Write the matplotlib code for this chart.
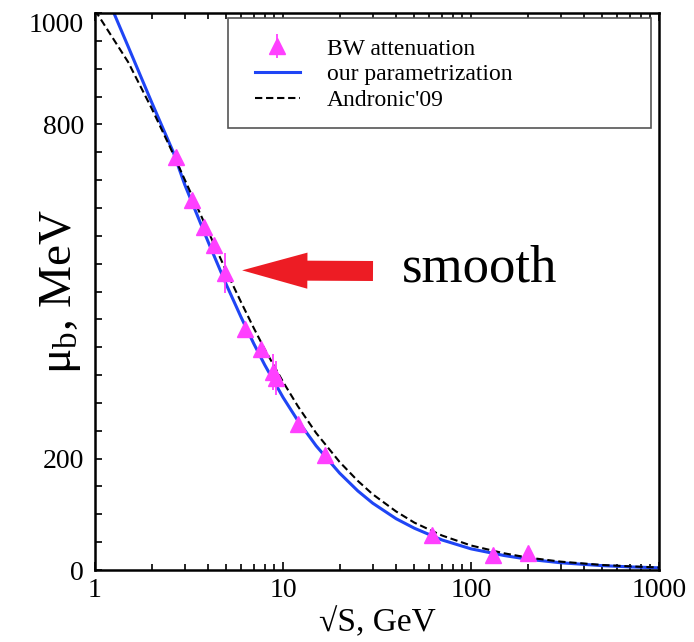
import matplotlib
matplotlib.use("Agg")
import matplotlib.pyplot as plt
from matplotlib.patches import Rectangle
from matplotlib.ticker import FixedLocator, FixedFormatter, LogLocator, NullFormatter

plt.rcParams['font.family'] = ['Liberation Serif', 'DejaVu Serif']
plt.rcParams['mathtext.fontset'] = 'custom'
plt.rcParams['mathtext.rm'] = 'Liberation Serif'
plt.rcParams['mathtext.it'] = 'Liberation Serif:italic'

# ---- data ----
bw_sqrts = [2.7, 3.27, 3.78, 4.27, 4.93, 6.3, 7.6, 8.8, 9.2, 12.0, 16.8, 62.2, 131, 202]
bw_mub = [741, 664, 615, 583, 534, 433, 397, 355, 345, 263, 206, 63, 27, 30]
bw_err = [8, 8, 8, 8, 36, 10, 10, 32, 30, 10, 8, 5, 5, 5]

param_sqrts = [1.26, 1.5, 2.0, 2.61, 3.0, 4.0, 5.0, 6.0, 7.0, 8.0, 10, 12, 15, 20, 25, 30,
               40, 50, 70, 100, 150, 200, 300, 500, 700, 1000]
param_mub = [1000, 940, 840, 750, 692, 589, 512, 453, 406, 368, 310, 268, 223, 174, 142, 120,
             92, 75, 54, 38, 26, 19.4, 13, 7.8, 5.6, 3.9]

andr_sqrts = [1.0, 1.5, 2.0, 2.5, 3.0, 4.0, 5.0, 6.0, 7.0, 8.0, 10, 12, 15, 20, 25, 30,
              40, 50, 70, 100, 150, 200, 300, 500, 700, 1000]
andr_mub = [1005, 912, 829, 760, 701, 608, 536, 480, 434, 396, 338, 294, 246, 194, 160, 136,
            105, 85, 62, 44, 30, 22.4, 15, 9, 6.5, 4.5]

ytick_values = list(range(0, 1001, 50))
ytick_shown = {0: '0', 200: '200', 800: '800', 1000: '1000'}
xtick_values = [1, 10, 100, 1000]
xtick_labels = ['1', '10', '100', '1000']

legend_labels = ['BW attenuation', 'our parametrization', "Andronic'09"]
annotation_text = 'smooth'
arrow_target = (6.06, 538)

# ---- figure ----
W, H = 694, 642
L, R, T, B = 95, 659, 13, 570
fig = plt.figure(figsize=(W / 100, H / 100), dpi=100)
ax = fig.add_axes([L / W, 1 - B / H, (R - L) / W, (B - T) / H])


def axfrac(px, py):
    return (px - L) / (R - L), (B - py) / (B - T)


magenta = '#ff40ff'
blue = '#1f45f5'

eb = ax.errorbar(bw_sqrts, bw_mub, yerr=bw_err, fmt='^', color=magenta, ms=12,
                 mec=magenta, mfc=magenta, elinewidth=1.3, capsize=0, zorder=3,
                 label=legend_labels[0])
l1, = ax.plot(param_sqrts, param_mub, color=blue, lw=2.2, zorder=2, label=legend_labels[1])
l2, = ax.plot(andr_sqrts, andr_mub, color='black', lw=1.5, dashes=(3.5, 1.8), zorder=2.5,
              label=legend_labels[2])

ax.set_xscale('log')
ax.set_xlim(1, 1000)
ax.set_ylim(0, 1000)

ax.xaxis.set_major_locator(FixedLocator(xtick_values))
ax.xaxis.set_major_formatter(FixedFormatter(xtick_labels))
ax.xaxis.set_minor_locator(LogLocator(base=10, subs=[2, 3, 4, 5, 6, 7, 8, 9]))
ax.xaxis.set_minor_formatter(NullFormatter())

ax.yaxis.set_major_locator(FixedLocator(ytick_values))
ax.yaxis.set_major_formatter(FixedFormatter([ytick_shown.get(v, '') for v in ytick_values]))

ax.tick_params(axis='both', which='both', direction='in', top=True, right=False,
               width=1.2, labelsize=20)
ax.tick_params(axis='x', which='major', length=6, pad=6)
ax.tick_params(axis='x', which='minor', length=4)
ax.tick_params(axis='y', which='major', length=5, pad=8)
for s in ax.spines.values():
    s.set_linewidth(1.8)

ax.set_xlabel('√S, GeV', fontsize=24, labelpad=3)
ax.set_ylabel('μ$_{\\mathrm{b}}$, MeV', fontsize=34)
ax.yaxis.set_label_coords(axfrac(83, 0)[0], 0.5)

fig.canvas.draw()
for t in ax.get_yticklabels():
    if t.get_text() == '1000':
        t.set_va('top')

# legend box drawn separately, legend entries placed inside
x0, y0 = axfrac(228, 128)
x1, y1 = axfrac(651, 18)
ax.add_patch(Rectangle((x0, y0), x1 - x0, y1 - y0, transform=ax.transAxes,
                       facecolor='white', edgecolor='#555555', lw=1.2, zorder=4.5,
                       clip_on=False))
leg = ax.legend(handles=[eb, l1, l2], labels=legend_labels,
                bbox_to_anchor=axfrac(255, 38), loc='upper left', borderaxespad=0,
                borderpad=0, fontsize=17, labelspacing=0.18, handlelength=1.9,
                handletextpad=1.15, frameon=False)
leg.set_zorder(5)

# arrow pointing to the curve and the annotation text
ax.annotate('', xy=arrow_target, xycoords='data',
            xytext=(373, H - 271), textcoords='figure pixels',
            arrowprops=dict(arrowstyle='simple,head_length=47,head_width=26,tail_width=14.4',
                            mutation_scale=1, color='#ed1c24', shrinkA=0, shrinkB=0, lw=0))
fig.text(402 / W, 1 - 282 / H, annotation_text, fontsize=38, ha='left', va='baseline')

fig.savefig('out.png', dpi=100)
